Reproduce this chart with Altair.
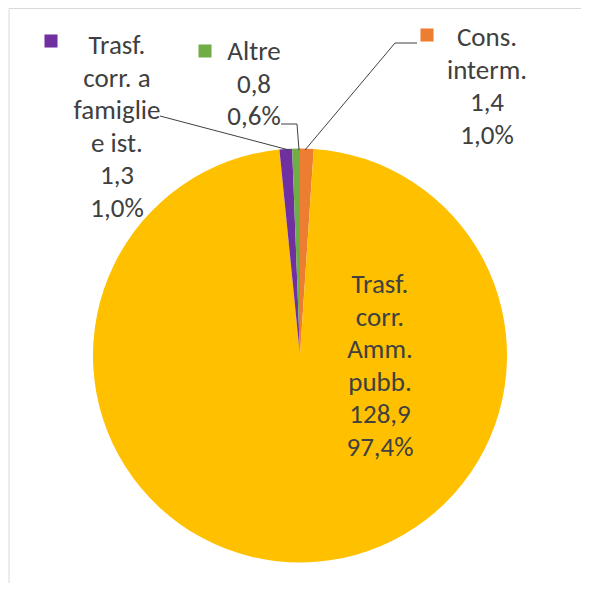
import altair as alt
import pandas as pd

# ---- data ----
categories = ["Cons. interm.", "Trasf. corr. Amm. pubb.", "Trasf. corr. a famiglie e ist.", "Altre"]
values = [1.4, 128.9, 1.3, 0.8]
percents = ["1,0%", "97,4%", "1,0%", "0,6%"]
label_lines = [["Cons.", "interm."], ["Trasf.", "corr.", "Amm.", "pubb."],
               ["Trasf.", "corr. a", "famiglie", "e ist."], ["Altre"]]
colors = ["#ED7D31", "#FFC000", "#7030A0", "#70AD47"]

# ---- layout (page pixels) ----
OFF = 8
W, H = 589 - 2 * OFF, 591 - 2 * OFF
CX, CY, R = 300, 355.5, 207
FONT = "Carlito, Calibri, Lato"
TEXT = "#404040"
label_pos = {  # centre x, centre y of the first line of each label
    "Cons. interm.": (487, 38),
    "Trasf. corr. Amm. pubb.": (380, 285),
    "Trasf. corr. a famiglie e ist.": (117, 46),
    "Altre": (254, 52),
}
marker_pos = {
    "Cons. interm.": (427, 35),
    "Trasf. corr. a famiglie e ist.": (51, 41),
    "Altre": (205, 51),
}
leader_segs = [
    (160, 116, 289, 150),
    (281, 124, 297, 124), (297, 124, 299, 150),
    (395, 43, 417, 43), (395, 43, 305, 150),
]
border_segs = [(1, 0.5, W, 0.5), (1, 0.5, 1, H)]

pie_df = pd.DataFrame({"category": categories, "value": values, "order": list(range(len(values)))})
color_scale = alt.Scale(domain=categories, range=colors)

pie = alt.Chart(pie_df).mark_arc(outerRadius=R).encode(
    theta=alt.Theta("value:Q", stack=True),
    order=alt.Order("order:Q"),
    color=alt.Color("category:N", scale=color_scale, legend=None),
    x=alt.value(CX - OFF),
    y=alt.value(CY - OFF),
)

lab_rows = []
for c, v, p, lines in zip(categories, values, percents, label_lines):
    txt = "\n".join(lines + [f"{v:.1f}".replace(".", ","), p])
    lx, ly = label_pos[c]
    lab_rows.append({"text": txt, "lx": lx - OFF, "ly": ly - OFF})
lab_df = pd.DataFrame(lab_rows)

labels = alt.Chart(lab_df).mark_text(
    font=FONT, fontSize=27, color=TEXT, lineBreak="\n", lineHeight=32.5,
    baseline="middle", align="center",
).encode(
    x=alt.X("lx:Q", scale=None, axis=None),
    y=alt.Y("ly:Q", scale=None, axis=None),
    text="text:N",
)

mk_df = pd.DataFrame([{"category": c, "mx": marker_pos[c][0] - OFF, "my": marker_pos[c][1] - OFF}
                      for c in categories if c in marker_pos])
markers = alt.Chart(mk_df).mark_square(size=170, opacity=1).encode(
    x=alt.X("mx:Q", scale=None, axis=None),
    y=alt.Y("my:Q", scale=None, axis=None),
    color=alt.Color("category:N", scale=color_scale, legend=None),
)

ld_df = pd.DataFrame([{"x1": a - OFF, "y1": b - OFF, "x2": c - OFF, "y2": d - OFF} for a, b, c, d in leader_segs])
leaders = alt.Chart(ld_df).mark_rule(color=TEXT, strokeWidth=1).encode(
    x=alt.X("x1:Q", scale=None, axis=None), y=alt.Y("y1:Q", scale=None, axis=None),
    x2="x2:Q", y2="y2:Q",
)

bd_df = pd.DataFrame([{"x1": a, "y1": b, "x2": c, "y2": d} for a, b, c, d in border_segs])
border = alt.Chart(bd_df).mark_rule(color="#D9D9D9", strokeWidth=1).encode(
    x=alt.X("x1:Q", scale=None, axis=None), y=alt.Y("y1:Q", scale=None, axis=None),
    x2="x2:Q", y2="y2:Q",
)

chart = alt.layer(border, pie, leaders, markers, labels).properties(
    width=W, height=H, autosize="none", padding=0, background="white",
).configure_view(stroke=None)

chart.save("out.html", embed_options={"renderer": "svg", "actions": False})
